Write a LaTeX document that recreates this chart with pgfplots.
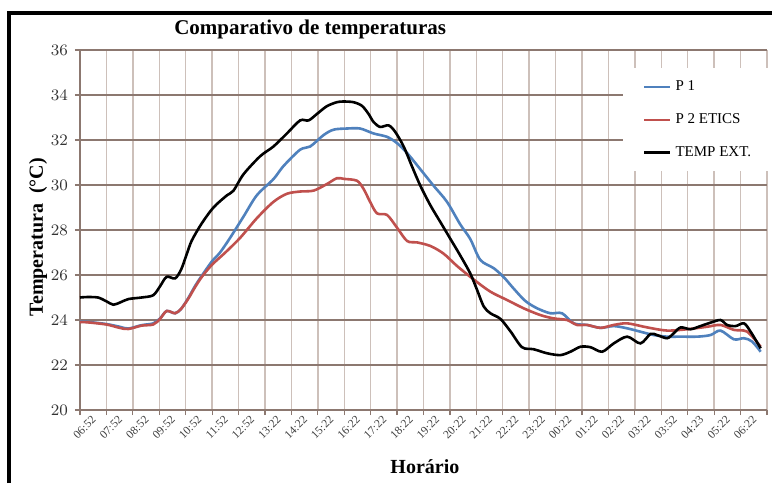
\documentclass[border=0pt]{standalone}
\usepackage{fontspec}
\setmainfont{Liberation Serif}
\usepackage{pgfplots}
\pgfplotsset{compat=1.18}
\definecolor{pblue}{RGB}{79,129,189}
\definecolor{pred}{RGB}{192,80,77}
\definecolor{hgrid}{RGB}{140,120,112}
\definecolor{vgrid}{RGB}{205,192,186}
\begin{document}
\begin{tikzpicture}
\path[use as bounding box] (0,0) rectangle (386pt,241.5pt);
\fill[white] (0,0) rectangle (386pt,241.5pt);
\begin{axis}[
  at={(40pt,36.5pt)}, anchor=south west,
  scale only axis, width=343.5pt, height=180pt,
  xmin=0, xmax=26, ymin=20, ymax=36,
  xtick={0,...,26},
  xticklabels={06:52,07:52,08:52,09:52,10:52,11:52,12:52,13:22,14:22,15:22,16:22,17:22,18:22,19:22,20:22,21:22,22:22,23:22,00:22,01:22,02:22,03:22,03:52,04:23,05:22,06:22,{}},
  ytick={20,22,...,36},
  axis lines=left, axis line style={-, draw=hgrid, line width=0.8pt},
  tick align=outside, major tick length=2.5pt,
  tick style={draw=hgrid, line width=0.6pt},
  xmajorgrids, ymajorgrids,
  x grid style={vgrid, line width=0.7pt},
  y grid style={hgrid, line width=0.8pt},
  xticklabel style={rotate=45, anchor=east, font=\fontsize{5.8}{6.5}\selectfont, text=black!75, inner sep=1pt, xshift=5pt, yshift=-6pt},
  yticklabel style={font=\fontsize{8.5}{9}\selectfont, text=black!80},
  xlabel={\textbf{Horário}},
  xlabel style={at={(axis description cs:0.502,-0.158)}, anchor=center, font=\fontsize{10}{12}\selectfont},
  ylabel={\textbf{Temperatura\ \ (°C)}},
  ylabel style={at={(axis description cs:-0.061,0.48)}, anchor=center, font=\fontsize{10}{12}\selectfont},
  legend style={at={(axis description cs:0.79,0.95)}, anchor=north west, draw=none, fill=white,
    font=\fontsize{7.5}{8}\selectfont, row sep=6pt, inner xsep=10pt, inner ysep=4pt,
    /tikz/every even column/.append style={column sep=0pt}},
  legend cell align=left,
  legend image code/.code={\draw[#1, line width=1.2pt] (0pt,0pt) -- (13pt,0pt);},
  clip=false,
]
\addplot[pblue, line width=1.3pt, smooth, tension=0.5] coordinates {
(0,23.92)(0.25,23.92)(1.0,23.82)(1.5,23.7)(1.83,23.62)(2.33,23.77)(2.77,23.85)(3.03,24.07)(3.28,24.4)(3.6,24.3)(3.83,24.5)(4.1,24.98)(4.35,25.5)(4.6,25.95)(4.99,26.6)(5.3,27.0)(5.68,27.65)(6.19,28.6)(6.69,29.54)(7.32,30.26)(7.7,30.84)(8.33,31.57)(8.71,31.71)(9.22,32.22)(9.6,32.46)(10.1,32.51)(10.6,32.51)(11.11,32.29)(11.62,32.14)(12.0,31.86)(12.38,31.42)(12.88,30.7)(13.38,29.97)(13.89,29.25)(14.39,28.25)(14.77,27.6)(15.15,26.67)(15.66,26.3)(16.04,25.9)(16.41,25.4)(16.85,24.85)(17.3,24.52)(17.8,24.3)(18.24,24.3)(18.69,23.85)(19.19,23.78)(19.7,23.65)(20.2,23.73)(20.71,23.63)(21.21,23.48)(21.72,23.33)(22.22,23.26)(22.73,23.26)(23.36,23.26)(23.86,23.33)(24.24,23.53)(24.75,23.14)(25.13,23.19)(25.44,23.04)(25.76,22.59)
};
\addlegendentry{P 1}
\addplot[pred, line width=1.3pt, smooth, tension=0.5] coordinates {
(0,23.9)(0.25,23.9)(1.0,23.8)(1.5,23.65)(1.83,23.6)(2.33,23.75)(2.77,23.8)(3.03,24.05)(3.28,24.4)(3.6,24.3)(3.83,24.5)(4.1,24.95)(4.35,25.45)(4.6,25.9)(4.99,26.45)(5.5,27.0)(6.06,27.65)(6.69,28.52)(7.32,29.25)(7.83,29.61)(8.33,29.71)(8.84,29.75)(9.34,30.04)(9.72,30.3)(10.0,30.27)(10.48,30.19)(10.73,29.83)(10.98,29.25)(11.24,28.74)(11.62,28.67)(12.0,28.1)(12.38,27.51)(12.75,27.45)(13.26,27.29)(13.76,26.95)(14.27,26.4)(14.9,25.8)(15.53,25.26)(16.16,24.89)(16.79,24.52)(17.42,24.22)(17.93,24.07)(18.43,24.0)(18.81,23.78)(19.19,23.78)(19.7,23.65)(20.2,23.78)(20.71,23.85)(21.47,23.67)(22.22,23.53)(22.98,23.59)(23.74,23.7)(24.24,23.78)(24.75,23.56)(25.25,23.48)(25.76,22.81)
};
\addlegendentry{P 2 ETICS}
\addplot[black, line width=1.3pt, smooth, tension=0.5] coordinates {
(0,25.0)(0.25,25.02)(0.68,25.0)(1.0,24.83)(1.26,24.68)(1.52,24.78)(1.83,24.93)(2.33,25.0)(2.77,25.1)(3.03,25.5)(3.28,25.92)(3.6,25.85)(3.83,26.25)(4.04,26.93)(4.23,27.53)(4.6,28.28)(5.05,29.0)(5.56,29.54)(5.81,29.75)(6.19,30.48)(6.82,31.28)(7.32,31.71)(7.83,32.29)(8.33,32.87)(8.65,32.87)(8.97,33.16)(9.34,33.5)(9.72,33.68)(9.97,33.71)(10.35,33.68)(10.67,33.52)(10.92,33.16)(11.11,32.8)(11.36,32.58)(11.68,32.65)(11.93,32.36)(12.25,31.71)(12.56,30.84)(12.88,29.97)(13.26,29.1)(13.64,28.35)(14.02,27.6)(14.39,26.87)(14.77,26.07)(15.03,25.33)(15.28,24.6)(15.53,24.3)(15.91,24.05)(16.29,23.5)(16.73,22.79)(17.17,22.7)(17.68,22.52)(18.18,22.44)(18.56,22.59)(18.94,22.81)(19.32,22.79)(19.76,22.59)(20.2,22.96)(20.71,23.26)(21.21,22.96)(21.59,23.38)(21.84,23.33)(22.22,23.19)(22.47,23.41)(22.73,23.67)(23.11,23.59)(23.48,23.73)(23.86,23.88)(24.24,24.0)(24.49,23.78)(24.81,23.73)(25.13,23.85)(25.38,23.48)(25.76,22.74)
};
\addlegendentry{TEMP EXT.}
\node[font=\bfseries\fontsize{10.5}{12}\selectfont, anchor=center] at (axis description cs:0.335,1.056) {Comparativo de temperaturas};
\end{axis}
\draw[black, line width=2pt] (4.5pt,0pt) -- (4.5pt,235pt) -- (386pt,235pt);
\end{tikzpicture}
\end{document}
